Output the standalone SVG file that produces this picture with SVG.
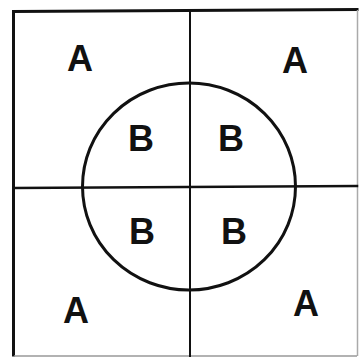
<svg xmlns="http://www.w3.org/2000/svg" width="361" height="358" viewBox="0 0 361 358">
<style>
.ln{stroke:#111;fill:none;stroke-linecap:square}
.lbl{font-family:"Liberation Sans",Arial,sans-serif;font-weight:bold;font-size:36px;fill:#111;text-anchor:middle}
</style>
<rect width="361" height="358" fill="#fff"/>
<g id="frame">
<line class="ln" x1="13.5" y1="12" x2="13.5" y2="355" stroke-width="3"/>
<line class="ln" x1="13.5" y1="11.5" x2="357" y2="9.5" stroke-width="3"/>
<line x1="357.5" y1="10" x2="357.5" y2="356" stroke="#aaa" stroke-width="1.5"/>
<line x1="14" y1="356" x2="357" y2="356" stroke="#999" stroke-width="1.5"/>
</g>
<g id="connectors">
<line class="ln" x1="190" y1="11" x2="190" y2="356" stroke-width="2"/>
<line class="ln" x1="14" y1="188" x2="357" y2="186" stroke-width="2.5"/>
</g>
<g id="circle">
<ellipse class="ln" cx="189" cy="186.5" rx="106.5" ry="103.5" stroke-width="3"/>
</g>
<g id="A1"><text class="lbl" x="80" y="71">A</text></g>
<g id="A2"><text class="lbl" x="295" y="73">A</text></g>
<g id="A3"><text class="lbl" x="76" y="323">A</text></g>
<g id="A4"><text class="lbl" x="306" y="316">A</text></g>
<g id="B1"><text class="lbl" x="141" y="151">B</text></g>
<g id="B2"><text class="lbl" x="231" y="151">B</text></g>
<g id="B3"><text class="lbl" x="142" y="244">B</text></g>
<g id="B4"><text class="lbl" x="234" y="244">B</text></g>
</svg>
